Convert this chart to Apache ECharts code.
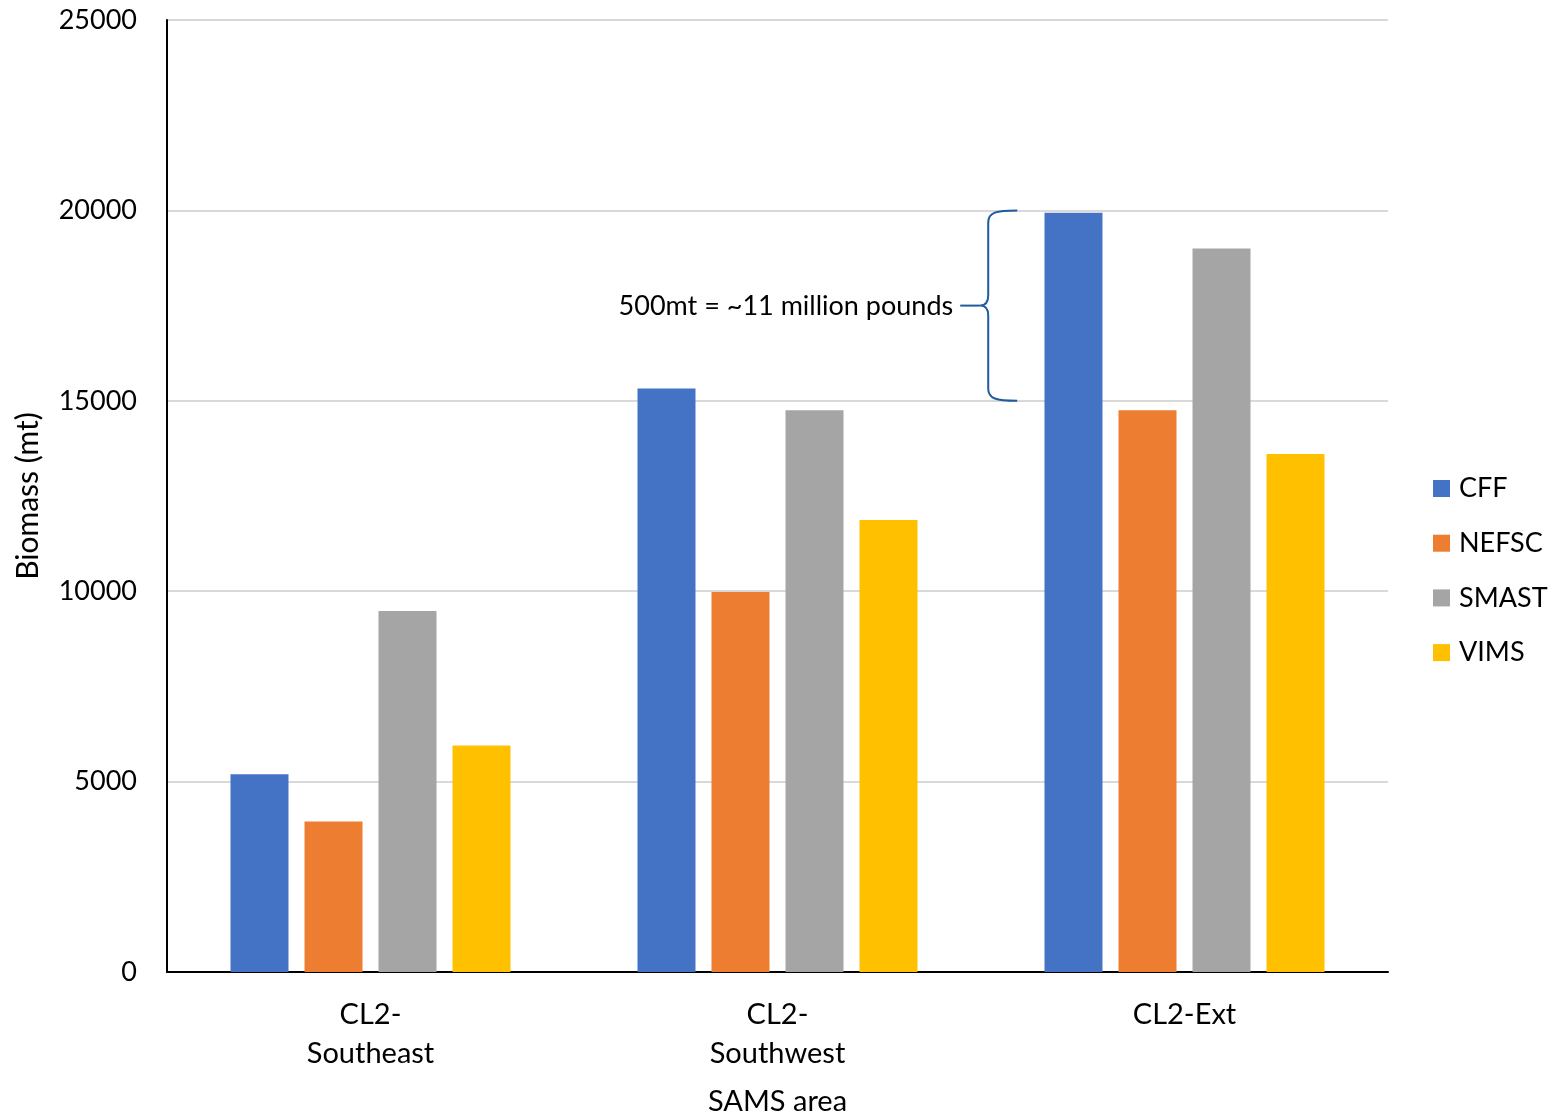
<!DOCTYPE html>
<html>
<head>
<meta charset="utf-8">
<title>Biomass by SAMS area</title>
<script src="https://cdn.jsdelivr.net/npm/echarts@6/dist/echarts.min.js"></script>
<style>
  html, body { margin: 0; padding: 0; background: #ffffff; }
  #chart { width: 1556px; height: 1116px; }
</style>
</head>
<body>
<div id="chart"></div>
<script>
// Survey biomass estimates (mt) per SAMS area
const areas = ['CL2-\nSoutheast', 'CL2-\nSouthwest', 'CL2-Ext'];
const surveys = ['CFF', 'NEFSC', 'SMAST', 'VIMS'];
const cff   = [5190, 15320, 19940];
const nefsc = [3950, 9980, 14750];
const smast = [9480, 14750, 19000];
const vims  = [5950, 11870, 13600];
const colors = ['#4472C4', '#ED7D31', '#A5A5A5', '#FFC000'];

// Bracket note spanning 15000–20000 mt beside the CL2-Ext bars
const noteText = '500mt = ~11 million pounds';
const noteRange = [15000, 20000];

const FONT = 'Lato, "Open Sans", sans-serif';
const seriesValues = [cff, nefsc, smast, vims];

const chart = echarts.init(document.getElementById('chart'), null, { renderer: 'canvas' });

const barSeries = surveys.map((name, i) => ({
  name: name,
  type: 'bar',
  data: seriesValues[i],
  barGap: '27.6%',
  barCategoryGap: '31.2%',
  itemStyle: { color: colors[i] },
  emphasis: { disabled: true }
}));

const braceSeries = {
  name: 'note',
  type: 'custom',
  silent: true,
  z: 5,
  data: [[2, noteRange[0], noteRange[1]]],
  renderItem: function (params, api) {
    const cat = api.value(0);
    const bottom = api.coord([cat, api.value(1)]);
    const top = api.coord([cat, api.value(2)]);
    const bw = api.size([1, 0])[0];
    const xR = top[0] - bw * 0.411;     // open ends of the brace
    const xV = xR - 29;                  // vertical stroke
    const xT = xR - 37;                  // tip
    const yT = top[1], yB = bottom[1], yM = (yT + yB) / 2;
    const path =
      'M' + xR + ',' + yT +
      ' C' + (xV + 8) + ',' + yT + ' ' + xV + ',' + (yT + 2) + ' ' + xV + ',' + (yT + 12) +
      ' L' + xV + ',' + (yM - 10) +
      ' C' + xV + ',' + (yM - 3) + ' ' + (xV - 3) + ',' + yM + ' ' + xT + ',' + yM +
      ' C' + (xV - 3) + ',' + yM + ' ' + xV + ',' + (yM + 3) + ' ' + xV + ',' + (yM + 10) +
      ' L' + xV + ',' + (yB - 12) +
      ' C' + xV + ',' + (yB - 2) + ' ' + (xV + 8) + ',' + yB + ' ' + xR + ',' + yB;
    return {
      type: 'group',
      children: [
        {
          type: 'path',
          shape: { pathData: path },
          style: { fill: null, stroke: '#1F5B9E', lineWidth: 2 }
        },
        {
          type: 'line',
          shape: { x1: xR - 57, y1: yM, x2: xT, y2: yM },
          style: { stroke: '#1F5B9E', lineWidth: 2 }
        },
        {
          type: 'text',
          style: {
            text: noteText,
            x: xR - 64,
            y: yM + 1,
            align: 'right',
            verticalAlign: 'middle',
            fill: '#000000',
            font: '27px ' + FONT
          }
        }
      ]
    };
  }
};

chart.setOption({
  backgroundColor: '#ffffff',
  animation: false,
  textStyle: { fontFamily: FONT },
  grid: {
    left: 167, right: 168, top: 20, bottom: 144,
    containLabel: false,
    outerBoundsMode: 'none'
  },
  legend: {
    data: surveys,
    orient: 'vertical',
    left: 1433,
    top: 475,
    padding: 0,
    itemWidth: 17,
    itemHeight: 17,
    itemGap: 27.7,
    icon: 'rect',
    textStyle: { fontSize: 27, color: '#000000', fontFamily: FONT, padding: [0, 0, 0, 4] },
    selectedMode: false
  },
  xAxis: {
    type: 'category',
    data: areas,
    name: 'SAMS area',
    nameLocation: 'middle',
    nameGap: 115,
    nameTextStyle: { fontSize: 29, color: '#000000', fontFamily: FONT },
    axisLine: { lineStyle: { color: '#000000', width: 2 } },
    axisTick: { show: false },
    axisLabel: {
      fontSize: 29,
      color: '#000000',
      fontFamily: FONT,
      margin: 23,
      lineHeight: 39
    }
  },
  yAxis: {
    type: 'value',
    min: 0,
    max: 25000,
    interval: 5000,
    name: 'Biomass (mt)',
    nameLocation: 'middle',
    nameGap: 124,
    nameTextStyle: { fontSize: 30, color: '#000000', fontFamily: FONT },
    axisLine: { show: true, lineStyle: { color: '#000000', width: 2 } },
    axisTick: { show: false },
    axisLabel: {
      fontSize: 27,
      color: '#000000',
      fontFamily: FONT,
      margin: 30,
      formatter: function (v) { return String(v); }
    },
    splitLine: { lineStyle: { color: '#D9D9D9', width: 2 } }
  },
  series: barSeries.concat([braceSeries])
});
</script>
</body>
</html>
